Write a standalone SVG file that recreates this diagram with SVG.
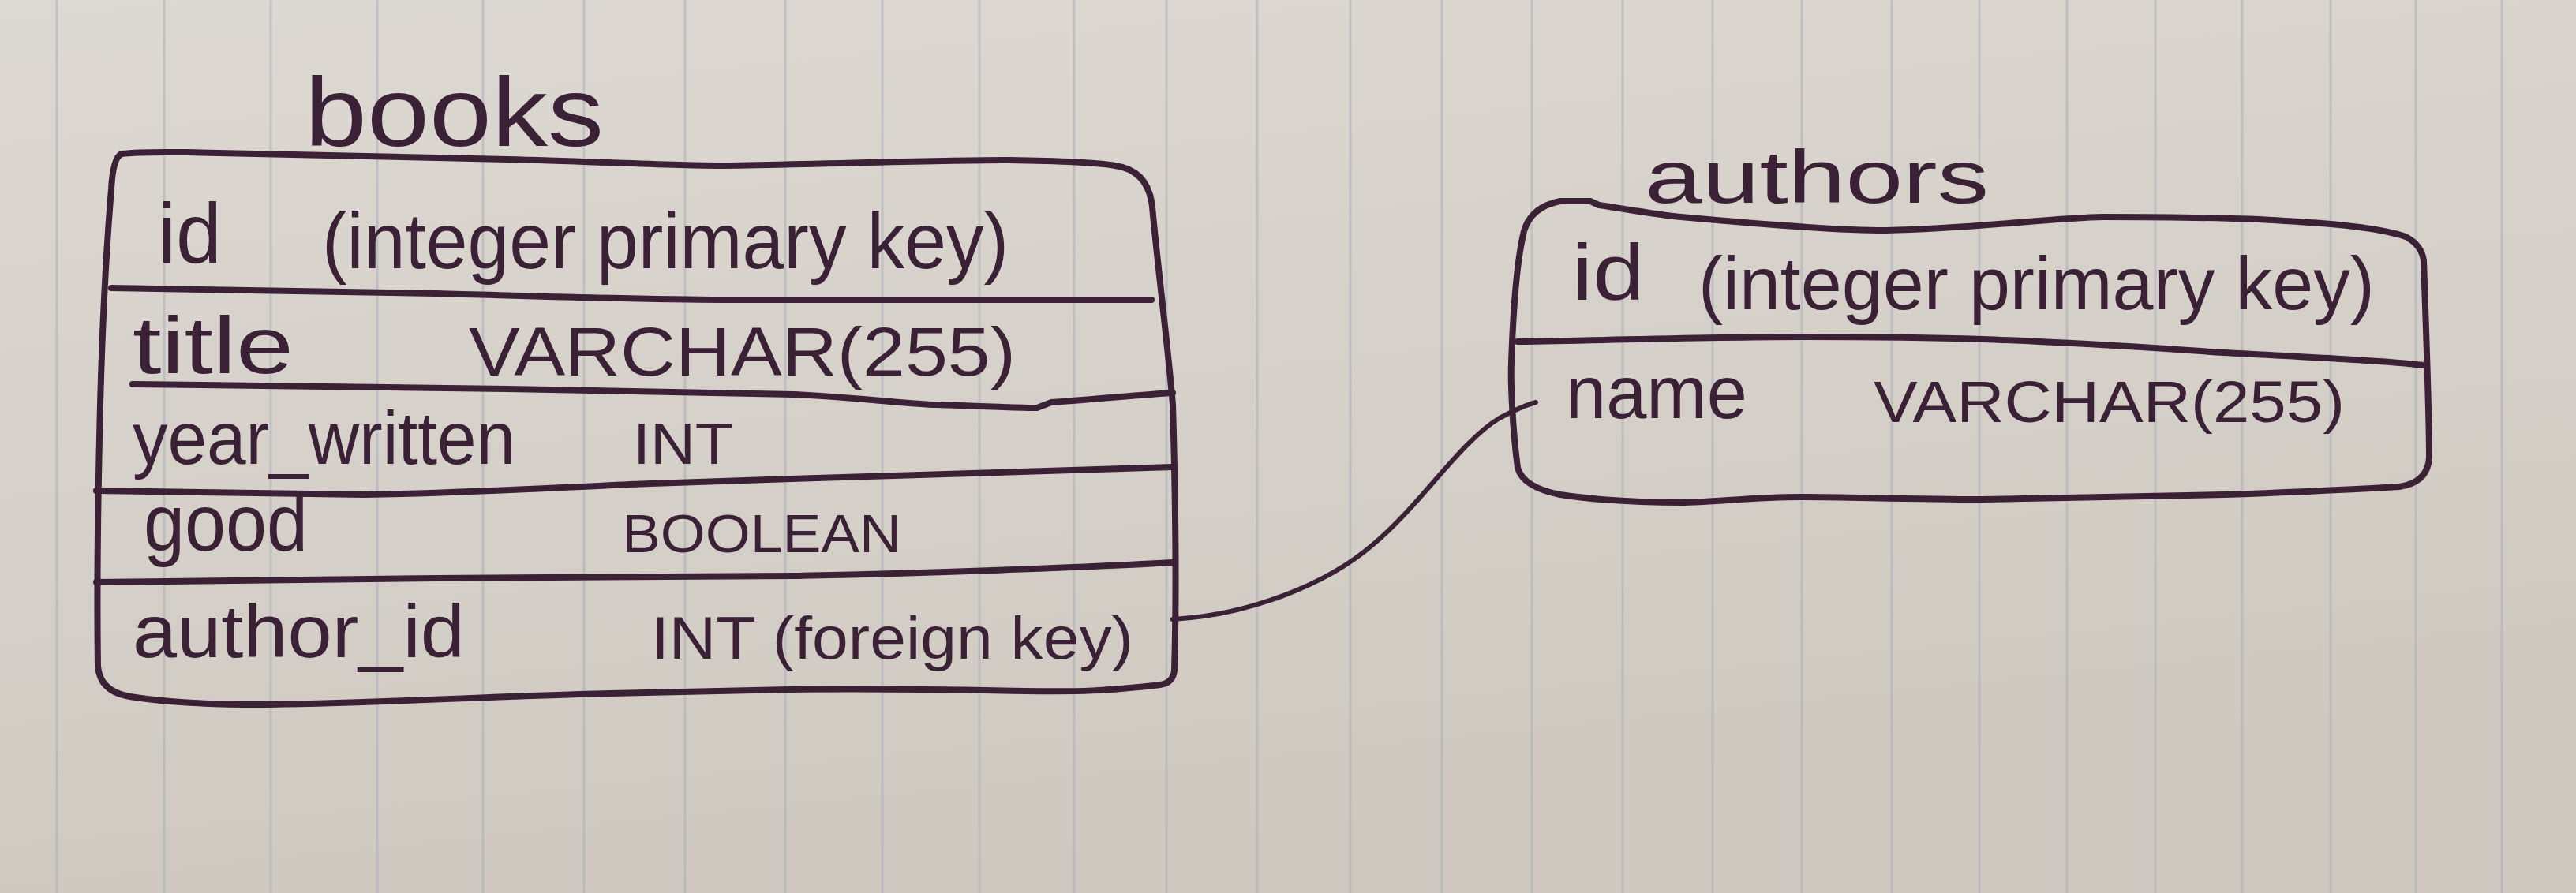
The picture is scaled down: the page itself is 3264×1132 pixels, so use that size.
<svg xmlns="http://www.w3.org/2000/svg" width="3264" height="1132" viewBox="0 0 3264 1132">
<defs>
<linearGradient id="paper" x1="0" y1="0" x2="0.3" y2="1">
<stop offset="0" stop-color="#dddad3"/>
<stop offset="1" stop-color="#cec8c0"/>
</linearGradient>
<style>
.rule{stroke:#aeb2bc;stroke-width:3;opacity:0.6}
.ink{fill:none;stroke:#3a2135;stroke-width:8;stroke-linecap:round;stroke-linejoin:round}
.thin{fill:none;stroke:#3a2135;stroke-width:6;stroke-linecap:round;stroke-linejoin:round}
.t{font-family:"Liberation Sans","DejaVu Sans",sans-serif;fill:#3a2135}
</style>
</defs>
<rect width="3264" height="1132" fill="url(#paper)"/>
<g id="paper-rules">
<line class="rule" x1="72" y1="0" x2="72" y2="1132"/>
<line class="rule" x1="208" y1="0" x2="208" y2="1132"/>
<line class="rule" x1="343" y1="0" x2="343" y2="1132"/>
<line class="rule" x1="478" y1="0" x2="478" y2="1132"/>
<line class="rule" x1="612" y1="0" x2="612" y2="1132"/>
<line class="rule" x1="740" y1="0" x2="740" y2="1132"/>
<line class="rule" x1="868" y1="0" x2="868" y2="1132"/>
<line class="rule" x1="995" y1="0" x2="995" y2="1132"/>
<line class="rule" x1="1118" y1="0" x2="1118" y2="1132"/>
<line class="rule" x1="1241" y1="0" x2="1241" y2="1132"/>
<line class="rule" x1="1361" y1="0" x2="1361" y2="1132"/>
<line class="rule" x1="1478" y1="0" x2="1478" y2="1132"/>
<line class="rule" x1="1593" y1="0" x2="1593" y2="1132"/>
<line class="rule" x1="1711" y1="0" x2="1711" y2="1132"/>
<line class="rule" x1="1827" y1="0" x2="1827" y2="1132"/>
<line class="rule" x1="1941" y1="0" x2="1941" y2="1132"/>
<line class="rule" x1="2056" y1="0" x2="2056" y2="1132"/>
<line class="rule" x1="2170" y1="0" x2="2170" y2="1132"/>
<line class="rule" x1="2283" y1="0" x2="2283" y2="1132"/>
<line class="rule" x1="2397" y1="0" x2="2397" y2="1132"/>
<line class="rule" x1="2508" y1="0" x2="2508" y2="1132"/>
<line class="rule" x1="2619" y1="0" x2="2619" y2="1132"/>
<line class="rule" x1="2731" y1="0" x2="2731" y2="1132"/>
<line class="rule" x1="2841" y1="0" x2="2841" y2="1132"/>
<line class="rule" x1="2953" y1="0" x2="2953" y2="1132"/>
<line class="rule" x1="3061" y1="0" x2="3061" y2="1132"/>
<line class="rule" x1="3170" y1="0" x2="3170" y2="1132"/>
</g>
<g id="connectors">
<path class="thin" d="M1486,785 C1580,780 1680,742 1740,690 C1800,640 1850,560 1900,530 C1915,522 1930,514 1946,510"/>
</g>
<g id="books">
<text class="t" x="386" y="185" font-size="125" textLength="379" lengthAdjust="spacingAndGlyphs">books</text>
<path class="ink" d="M154,195 C180,192 210,193 236,193 C400,196 550,200 643,202 C760,205 850,210 915,210 C1050,208 1180,203 1278,203 C1350,204 1390,206 1413,210 Q1455,216 1460,262 C1466,330 1480,440 1486,513 C1490,650 1490,780 1488,850 Q1486,866 1470,868 C1400,876 1368,877 1300,876 C1200,874 1100,873 1000,874 C900,876 800,878 734,880 C600,884 450,892 326,893 C250,893 190,888 160,882 Q127,875 124,845 C122,700 125,600 127,513 C130,400 136,300 141,240 Q143,200 154,195 Z"/>
<path class="ink" d="M141,365 C300,368 450,370 553,372 C700,376 820,380 915,380 C1150,380 1350,380 1459,380"/>
<path class="ink" d="M168,487 C400,489 550,491 643,493 C820,496 950,498 1006,500 C1100,505 1150,512 1187,513 C1240,515 1290,517 1314,517 L1332,510 C1400,505 1450,500 1486,498"/>
<path class="ink" d="M122,622 C300,625 400,627 462,627 C600,625 720,617 825,613 C1050,605 1300,598 1486,592"/>
<path class="ink" d="M122,738 C300,736 450,734 553,733 C750,732 900,731 1006,730 C1200,726 1400,718 1486,713"/>
<text class="t" x="200" y="333" font-size="108" textLength="81" lengthAdjust="spacingAndGlyphs">id</text>
<text class="t" x="408" y="340" font-size="100" textLength="870" lengthAdjust="spacingAndGlyphs">(integer primary key)</text>
<text class="t" x="168" y="473" font-size="102" textLength="204" lengthAdjust="spacingAndGlyphs">title</text>
<text class="t" x="594" y="476" font-size="88" textLength="693" lengthAdjust="spacingAndGlyphs">VARCHAR(255)</text>
<text class="t" x="168" y="588" font-size="95" textLength="485" lengthAdjust="spacingAndGlyphs">year_written</text>
<text class="t" x="802" y="588" font-size="74" textLength="127" lengthAdjust="spacingAndGlyphs">INT</text>
<text class="t" x="182" y="698" font-size="102" textLength="208" lengthAdjust="spacingAndGlyphs">good</text>
<text class="t" x="788" y="700" font-size="68" textLength="354" lengthAdjust="spacingAndGlyphs">BOOLEAN</text>
<text class="t" x="168" y="833" font-size="95" textLength="421" lengthAdjust="spacingAndGlyphs">author_id</text>
<text class="t" x="825" y="835" font-size="76" textLength="611" lengthAdjust="spacingAndGlyphs">INT (foreign key)</text>
</g>
<g id="authors">
<text class="t" x="2084" y="257" font-size="95" textLength="436" lengthAdjust="spacingAndGlyphs">authors</text>
<path class="ink" d="M1977,255 L2015,255 L2026,260 C2060,265 2100,272 2130,275 C2250,286 2330,292 2390,292 C2500,290 2600,276 2665,275 C2760,275 2850,277 2895,280 C2970,284 3020,290 3048,300 Q3068,310 3071,330 C3074,420 3078,520 3078,580 Q3076,612 3040,617 C2950,622 2880,625 2818,627 C2700,630 2600,632 2512,633 C2420,633 2340,630 2283,630 C2220,630 2170,637 2130,637 C2060,637 2010,632 1977,627 Q1930,618 1923,593 C1916,540 1914,480 1915,460 C1917,400 1922,330 1931,293 Q1940,262 1977,255 Z"/>
<path class="ink" d="M1923,433 C2050,431 2180,427 2283,427 C2380,427 2450,428 2512,430 C2650,435 2740,442 2818,447 C2950,454 3030,458 3071,463"/>
<text class="t" x="1992" y="380" font-size="100" textLength="92" lengthAdjust="spacingAndGlyphs">id</text>
<text class="t" x="2152" y="392" font-size="95" textLength="857" lengthAdjust="spacingAndGlyphs">(integer primary key)</text>
<text class="t" x="1984" y="530" font-size="95" textLength="230" lengthAdjust="spacingAndGlyphs">name</text>
<text class="t" x="2374" y="535" font-size="74" textLength="597" lengthAdjust="spacingAndGlyphs">VARCHAR(255)</text>
</g>
</svg>
